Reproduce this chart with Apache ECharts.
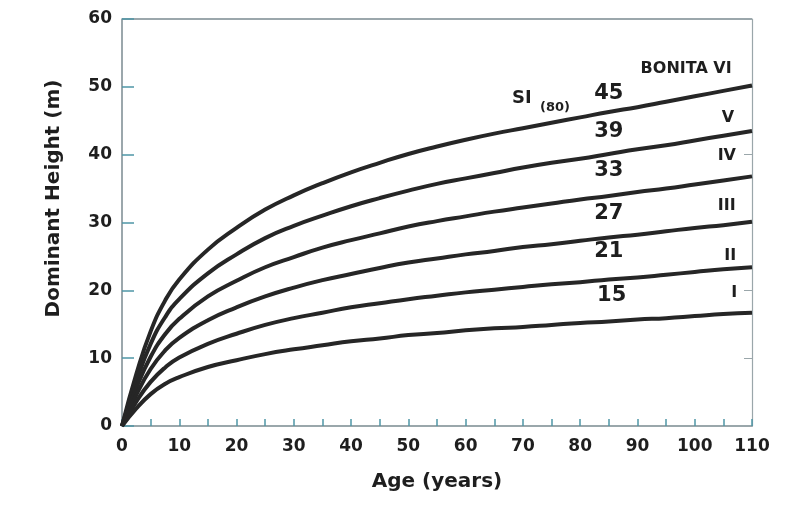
<!DOCTYPE html>
<html><head><meta charset="utf-8">
<script src="https://cdn.jsdelivr.net/npm/echarts@6/dist/echarts.min.js"></script>
<style>html,body{margin:0;padding:0;background:#fff}#c{width:796px;height:508px}</style>
</head><body><div id="c"></div>
<script>
const ages = [0,2.5,5,7.5,10,15,20,25,30,35,40,45,50,55,60,65,70,75,80,85,90,95,100,105,110];
const si45 = [0,7.65,13.95,18.45,21.6,26.0,29.2,31.9,34.0,35.8,37.4,38.8,40.1,41.2,42.2,43.1,43.9,44.7,45.5,46.3,47.0,47.8,48.6,49.4,50.2];
const si39 = [0,6.6,12.1,16.0,18.7,22.5,25.3,27.7,29.5,31.0,32.4,33.6,34.7,35.7,36.5,37.3,38.1,38.8,39.4,40.1,40.8,41.4,42.1,42.8,43.5];
const si33 = [0,5.6,10.2,13.5,15.8,19.1,21.4,23.4,24.9,26.3,27.4,28.4,29.4,30.2,30.9,31.6,32.2,32.8,33.4,33.9,34.5,35.0,35.6,36.2,36.8];
const si27 = [0,4.6,8.4,11.1,13.0,15.6,17.5,19.1,20.4,21.5,22.4,23.3,24.1,24.7,25.3,25.8,26.4,26.8,27.3,27.8,28.2,28.7,29.2,29.6,30.1];
const si21 = [0,3.6,6.5,8.6,10.1,12.1,13.6,14.9,15.9,16.7,17.5,18.1,18.7,19.2,19.7,20.1,20.5,20.9,21.2,21.6,21.9,22.3,22.7,23.1,23.4];
const si15 = [0,2.6,4.7,6.2,7.2,8.7,9.7,10.6,11.3,11.9,12.5,12.9,13.4,13.7,14.1,14.4,14.6,14.9,15.2,15.4,15.7,15.9,16.2,16.5,16.7];
const curves = [si45, si39, si33, si27, si21, si15];
const xTicks = [0,10,20,30,40,50,60,70,80,90,100,110];
const yTicks = [0,10,20,30,40,50,60];
// label texts and their positions in data units [age, height]
const siLabels = ['45','39','33','27','21','15'];
const siLabelPos = [[85,49.0],[85,43.4],[85,37.6],[85,31.3],[85,25.7],[85.5,19.2]];
const classLabels = ['BONITA VI','V','IV','III','II','I'];
const classLabelPos = [[98.5,52.6],[105.8,45.4],[105.6,39.8],[105.6,32.5],[106.2,25.1],[106.9,19.6]];
const siTitle = ['SI','(80)'];
const siTitlePos = [[69.8,48.3],[75.6,47.0]];

const FONT = 'DejaVu Sans, Liberation Sans, sans-serif';
const tickColor = '#4f97a6';
const axisColor = '#7a8a90';
const ink = '#1e1e1e';

const series = curves.map(c => ({
  type: 'line', smooth: 0.5, symbol: 'none', silent: true,
  lineStyle: {color: '#262626', width: 4},
  data: ages.map((a, i) => [a, c[i]])
}));

const chart = echarts.init(document.getElementById('c'));
chart.setOption({
  backgroundColor: '#ffffff',
  animation: false,
  grid: {left: 122, right: 44, top: 19, bottom: 82},
  xAxis: {
    type: 'value', min: 0, max: 110, interval: 5,
    name: 'Age (years)', nameLocation: 'middle', nameGap: 46,
    nameTextStyle: {fontFamily: FONT, fontWeight: 'bold', fontSize: 20, color: ink},
    axisLine: {show: true, lineStyle: {color: axisColor, width: 1.5}},
    axisTick: {show: true, inside: true, length: 7, lineStyle: {color: tickColor, width: 1.5}},
    axisLabel: {margin: 12, fontFamily: FONT, fontWeight: 'bold', fontSize: 17, color: ink,
      formatter: v => xTicks.includes(v) ? String(v) : ''},
    splitLine: {show: false}
  },
  yAxis: [{
    type: 'value', min: 0, max: 60, interval: 10,
    name: 'Dominant Height (m)', nameLocation: 'middle', nameGap: 58, nameRotate: 90,
    nameTextStyle: {fontFamily: FONT, fontWeight: 'bold', fontSize: 20, color: ink, padding: [0, 0, 0, 48]},
    axisLine: {show: true, lineStyle: {color: axisColor, width: 1.5}},
    axisTick: {show: true, inside: true, length: 12, lineStyle: {color: tickColor, width: 1.5}},
    axisLabel: {margin: 10, fontFamily: FONT, fontWeight: 'bold', fontSize: 17, color: ink,
      formatter: v => yTicks.includes(v) ? String(v) : ''},
    splitLine: {show: false}
  }, {
    type: 'value', min: 0, max: 60, interval: 10, position: 'right',
    axisLine: {show: true, lineStyle: {color: '#9aa6aa', width: 1.2}},
    axisTick: {show: true, inside: true, length: 8, lineStyle: {color: '#9aa6aa', width: 1}},
    axisLabel: {show: false}, splitLine: {show: false}
  }],
  graphic: [],
  series: series
});
const toPx = p => chart.convertToPixel({xAxisIndex: 0, yAxisIndex: 0}, p);
function texts(list, pos, size) {
  return list.map((t, i) => {
    const q = toPx(pos[i]);
    return {type: 'text', x: q[0], y: q[1], silent: true,
      style: {text: t, fill: ink, font: 'bold ' + size + 'px ' + FONT, align: 'center', verticalAlign: 'middle'}};
  });
}
const p0 = toPx([0, 60]);
const p1 = toPx([110, 60]);
const g = [{type: 'line', shape: {x1: p0[0], y1: p0[1], x2: p1[0], y2: p1[1]},
  style: {stroke: axisColor, lineWidth: 1.5}, silent: true}]
  .concat(texts(siLabels, siLabelPos, 21))
  .concat(texts(classLabels.slice(0,1), classLabelPos.slice(0,1), 16))
  .concat(texts(classLabels.slice(1), classLabelPos.slice(1), 16))
  .concat(texts(siTitle.slice(0,1), siTitlePos.slice(0,1), 18))
  .concat(texts(siTitle.slice(1), siTitlePos.slice(1), 13));
chart.setOption({graphic: g});
</script>
</body></html>
